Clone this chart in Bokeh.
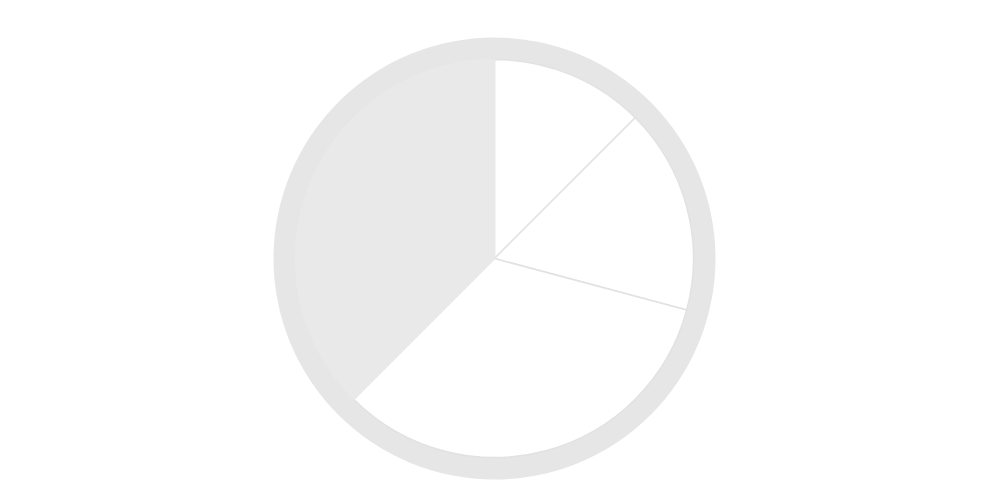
import numpy as np
from bokeh.plotting import figure
from bokeh.models import ColumnDataSource, Range1d
from bokeh.embed import file_html
from bokeh.resources import INLINE

# Data
categories = ["A", "B", "C", "D"]
values = [3, 4, 8, 9]
slice_colors = ["#ffffff", "#ffffff", "#ffffff", "#e9e9e9"]
slice_lines = ["#e2e2e2", "#e2e2e2", "#e2e2e2", "#e9e9e9"]

W, H = 966, 480
p = figure(width=W, height=H, output_backend="svg", toolbar_location=None,
           x_range=Range1d(0, W), y_range=Range1d(0, H), min_border=0)
p.axis.visible = False
p.grid.visible = False
p.outline_line_color = None
p.background_fill_color = "#ffffff"
p.border_fill_color = "#ffffff"

cx, cy = 494, H - 258
R_outer, R_inner = 221, 199

vals = np.array(values, dtype=float)
cum = np.cumsum(vals)
prev = cum - vals
tot = vals.sum()
start = np.pi / 2 - prev / tot * 2 * np.pi
end = np.pi / 2 - cum / tot * 2 * np.pi

p.circle(x=[cx], y=[cy], radius=R_outer, radius_units="screen",
         fill_color="#e6e6e6", line_color=None)

src = ColumnDataSource(dict(cat=categories, start=start, end=end,
                            fill=slice_colors, line=slice_lines,
                            x=[cx] * len(values), y=[cy] * len(values)))
p.wedge(x="x", y="y", radius=R_inner, radius_units="screen",
        start_angle="start", end_angle="end", direction="clock",
        fill_color="fill", line_color="line", line_width=1.5, source=src)

open("out.html", "w").write(file_html(p, INLINE))
